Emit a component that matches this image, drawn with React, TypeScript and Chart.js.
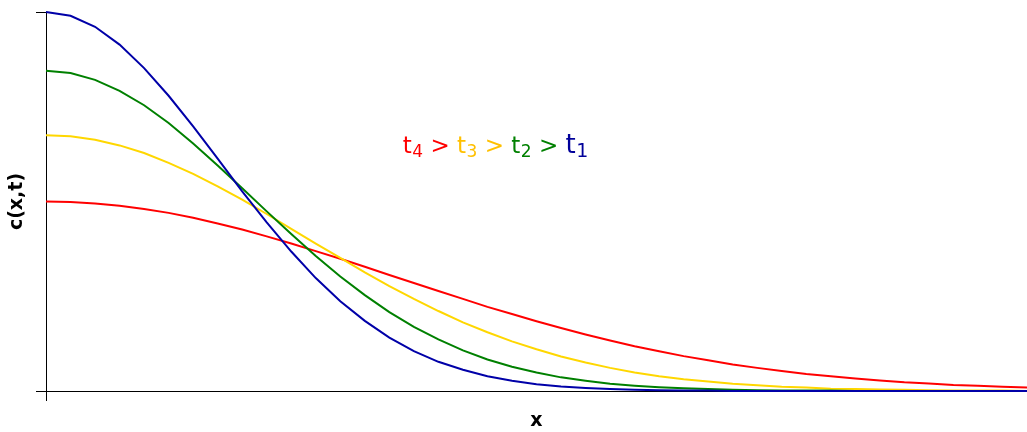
import React, { useEffect, useRef } from 'react';
import { Chart, registerables } from 'chart.js';

Chart.register(...registerables);

// x positions (distance from origin)
const xValues = [
  0.0, 0.1, 0.2, 0.3, 0.4, 0.5, 0.6, 0.7, 0.8, 0.9,
  1.0, 1.1, 1.2, 1.3, 1.4, 1.5, 1.6, 1.7, 1.8, 1.9,
  2.0, 2.1, 2.2, 2.3, 2.4, 2.5, 2.6, 2.7, 2.8, 2.9,
  3.0, 3.1, 3.2, 3.3, 3.4, 3.5, 3.6, 3.7, 3.8, 3.9, 4.0,
];

// c(x,t) at t1 (blue)
const cT1 = [
  1.000, 0.990, 0.961, 0.914, 0.852, 0.779, 0.698, 0.613, 0.527, 0.445,
  0.368, 0.298, 0.237, 0.185, 0.141, 0.105, 0.077, 0.056, 0.039, 0.027,
  0.018, 0.012, 0.008, 0.005, 0.003, 0.002, 0.001, 0.001, 0.000, 0.000,
  0.000, 0.000, 0.000, 0.000, 0.000, 0.000, 0.000, 0.000, 0.000, 0.000, 0.000,
];

// c(x,t) at t2 (green)
const cT2 = [
  0.845, 0.839, 0.821, 0.792, 0.754, 0.707, 0.653, 0.595, 0.535, 0.474,
  0.414, 0.356, 0.302, 0.253, 0.208, 0.169, 0.136, 0.107, 0.083, 0.064,
  0.049, 0.036, 0.027, 0.019, 0.014, 0.010, 0.007, 0.005, 0.003, 0.002,
  0.001, 0.001, 0.001, 0.000, 0.000, 0.000, 0.000, 0.000, 0.000, 0.000, 0.000,
];

// c(x,t) at t3 (yellow)
const cT3 = [
  0.675, 0.672, 0.663, 0.648, 0.628, 0.602, 0.573, 0.540, 0.505, 0.467,
  0.428, 0.389, 0.351, 0.313, 0.277, 0.243, 0.211, 0.181, 0.155, 0.131,
  0.110, 0.091, 0.075, 0.061, 0.049, 0.039, 0.031, 0.025, 0.019, 0.015,
  0.011, 0.009, 0.006, 0.005, 0.004, 0.003, 0.002, 0.001, 0.001, 0.001, 0.000,
];

// c(x,t) at t4 (red)
const cT4 = [
  0.500, 0.499, 0.495, 0.489, 0.480, 0.470, 0.457, 0.442, 0.426, 0.408,
  0.389, 0.369, 0.349, 0.328, 0.306, 0.285, 0.264, 0.243, 0.222, 0.203,
  0.184, 0.166, 0.149, 0.133, 0.118, 0.105, 0.092, 0.081, 0.070, 0.061,
  0.053, 0.045, 0.039, 0.033, 0.028, 0.023, 0.020, 0.016, 0.014, 0.011, 0.009,
];

const seriesNames = ['t1', 't2', 't3', 't4'];
const seriesColors = ['#0000A8', '#008000', '#FFD700', '#FF0000'];

// annotation "t4 > t3 > t2 > t1"
const noteMains = ['t', 't', 't', 't'];
const noteSubs = ['4', '3', '2', '1'];
const noteColors = ['#FF0000', '#FFC000', '#008000', '#00009A'];
const noteSep = ' > ';

const xTitle = 'x';
const yTitle = 'c(x,t)';

const FONT = '"DejaVu Sans", Verdana, sans-serif';

const notePlugin = {
  id: 'notePlugin',
  afterDatasetsDraw(chart: any) {
    const ctx = chart.ctx;
    const xs = chart.scales.x;
    const ys = chart.scales.y;
    let x = xs.getPixelForValue(1.455);
    const base = ys.getPixelForValue(0.628);
    ctx.save();
    ctx.textAlign = 'left';
    ctx.textBaseline = 'alphabetic';
    noteMains.forEach((m, i) => {
      const big = i === noteMains.length - 1 ? 26 : 23;
      const small = Math.round(big * 0.72);
      ctx.fillStyle = noteColors[i];
      ctx.font = `${big}px ${FONT}`;
      ctx.fillText(m, x, base);
      x += ctx.measureText(m).width;
      ctx.font = `${small}px ${FONT}`;
      ctx.fillText(noteSubs[i], x + 0.5, base + 4);
      x += ctx.measureText(noteSubs[i]).width + 0.5;
      if (i < noteMains.length - 1) {
        ctx.font = `${big}px ${FONT}`;
        ctx.fillText(noteSep, x, base);
        x += ctx.measureText(noteSep).width;
      }
    });
    ctx.restore();
  },
};

export default function App() {
  const canvasRef = useRef<HTMLCanvasElement | null>(null);

  useEffect(() => {
    document.body.style.margin = '0';
    const canvas = canvasRef.current;
    if (!canvas) return;
    const series = [cT1, cT2, cT3, cT4];
    const chart = new Chart(canvas, {
      type: 'line',
      data: {
        datasets: series.map((vals, i) => ({
          label: seriesNames[i],
          data: xValues.map((xv, j) => ({ x: xv, y: vals[j] })),
          borderColor: seriesColors[i],
          backgroundColor: seriesColors[i],
          borderWidth: 2,
          pointRadius: 0,
          tension: 0,
          fill: false,
          clip: false as any,
        })),
      },
      options: {
        animation: false,
        responsive: true,
        maintainAspectRatio: false,
        layout: { padding: { top: 12, right: 0, left: 0, bottom: 0 } },
        plugins: {
          legend: { display: false },
          tooltip: { enabled: false },
        },
        events: [],
        scales: {
          x: {
            type: 'linear',
            min: 0,
            max: 4,
            afterBuildTicks: (scale: any) => {
              scale.ticks = [{ value: 0 }];
            },
            afterFit: (scale: any) => {
              scale.height = 41;
            },
            ticks: { display: false },
            grid: {
              drawOnChartArea: false,
              drawTicks: true,
              tickLength: 10,
              color: '#000000',
              lineWidth: 1,
            },
            border: { display: true, color: '#000000', width: 1 },
            title: {
              display: true,
              text: xTitle,
              color: '#000000',
              font: { family: FONT, size: 19, weight: 'bold' },
              padding: { top: 0, bottom: 0 },
            },
          },
          y: {
            type: 'linear',
            min: 0,
            max: 1,
            afterBuildTicks: (scale: any) => {
              scale.ticks = [{ value: 0 }, { value: 1 }];
            },
            afterFit: (scale: any) => {
              scale.width = 46;
            },
            ticks: { display: false },
            grid: {
              drawOnChartArea: false,
              drawTicks: true,
              tickLength: 10,
              color: '#000000',
              lineWidth: 1,
            },
            border: { display: true, color: '#000000', width: 1 },
            title: {
              display: true,
              text: yTitle,
              color: '#000000',
              font: { family: FONT, size: 19, weight: 'bold' },
              padding: { top: 6, bottom: 0 },
            },
          },
        },
      },
      plugins: [notePlugin],
    } as any);
    return () => chart.destroy();
  }, []);

  return (
    <div style={{ position: 'relative', width: '1027px', height: '432px' }}>
      <canvas ref={canvasRef} />
    </div>
  );
}
